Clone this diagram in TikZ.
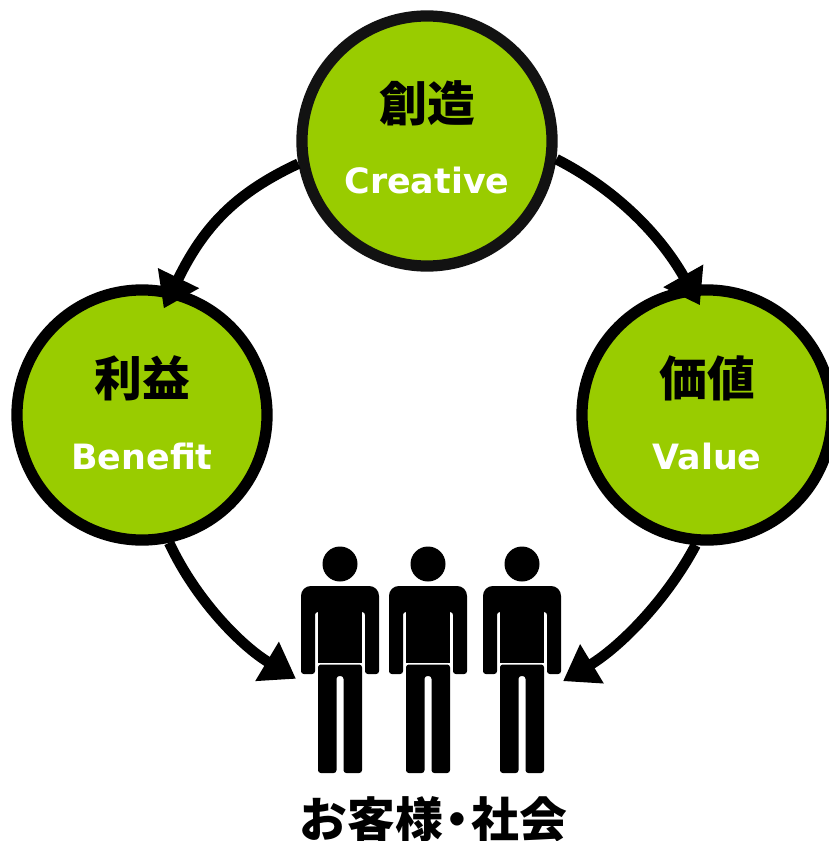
\documentclass[tikz,border=0pt]{standalone}
\usepackage{fontspec}
\setmainfont{DejaVu Sans}
\newfontfamily\cjkfont{Noto Sans CJK JP}
\usetikzlibrary{arrows.meta,shapes,positioning,calc}
\definecolor{leaf}{HTML}{99CC00}

\begin{document}
\begin{tikzpicture}[x=0.025cm,y=-0.025cm,
    circle-node/.style={circle, draw=black, fill=leaf, line width=8pt, minimum size=6.25cm, inner sep=0pt},
    kanji-text/.style={font=\cjkfont\bfseries\fontsize{34}{36}\selectfont},
    latin-text/.style={text=white, font=\bfseries\fontsize{24.8}{28}\selectfont},
    flow-arrow/.style={line width=7.5pt, looseness=0.87, -{Triangle[length=24pt,width=31pt]}}]
    \useasboundingbox (0,0) rectangle (828,841);
    \node[circle-node, draw=black!93] (creative) at (427,141) {};
    \node[circle-node] (benefit) at (142,415) {};
    \node[circle-node] (value) at (707,415) {};
    \node[kanji-text] (creative-jp) at (427,103) {創造};
    \node[latin-text] (creative-en) at (427,180) {Creative};
    \node[kanji-text] (benefit-jp) at (142,378) {利益};
    \node[latin-text] (benefit-en) at (142,456) {Benefit};
    \node[kanji-text] (value-jp) at (707,378) {価値};
    \node[latin-text] (value-en) at (707,456) {Value};
    \node[minimum width=6.675cm, minimum height=5.65cm, inner sep=0pt, outer sep=0pt] (customers) at (429.5,660) {};
    \node[kanji-text] (customers-label) at (433.5,819) {お客様\kern-0.2em・\kern-0.2em社会};
    \foreach \px in {340,428,522} {
        \begin{scope}[shift={(\px,0)}]
            \fill (0,564) circle (17.5);
            \fill[rounded corners=7pt] (0,586) -- (39,586) -- (39,620) [rounded corners=2pt] -- (39,674) -- (25,674) -- (25,612) -- (-25,612) -- (-25,674) -- (-39,674) -- (-39,620) [rounded corners=7pt] -- (-39,586) -- cycle;
            \fill (-22,605) rectangle (22,662.5);
            \fill[rounded corners=2pt] (0,664.5) -- (22,664.5) -- (22,773) -- (3.5,773) -- (3.5,676) -- (-3.5,676) -- (-3.5,773) -- (-22,773) -- (-22,664.5) -- cycle;
        \end{scope}
    }
    \draw[flow-arrow, shorten >=-16pt, looseness=1] (creative.190) to[out=205,in=64] (benefit.76);
    \draw[flow-arrow, shorten >=-16pt] (creative.-8) to[out=-27,in=119.5] (value.98);
    \draw[flow-arrow] (benefit.-78) to[out=-65,in=149] (customers.188.9);
    \draw[flow-arrow] (value.-95) to[out=-118,in=31] (customers.-9.1);
\end{tikzpicture}
\end{document}
